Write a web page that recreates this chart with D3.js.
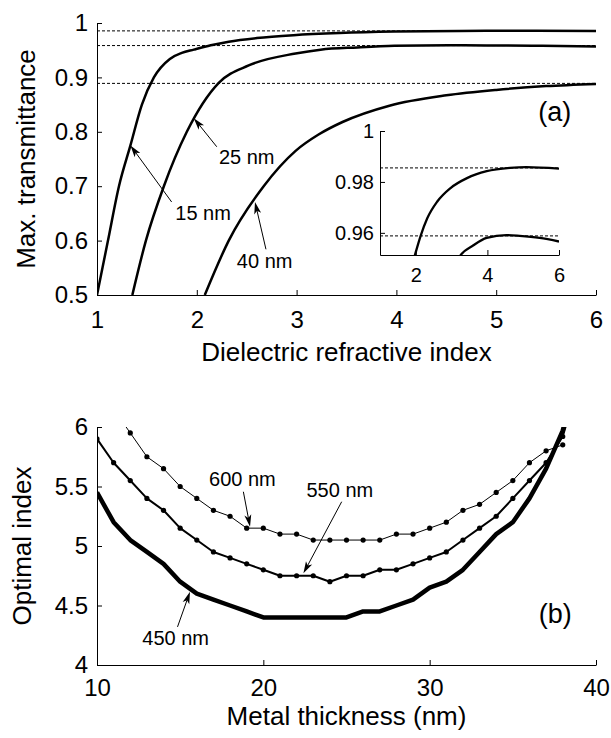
<!DOCTYPE html>
<html>
<head>
<meta charset="utf-8">
<script src="https://cdn.jsdelivr.net/npm/d3@7"></script>
<style>
  body { margin: 0; background: #fff; }
  svg { display: block; font-family: "Liberation Sans", Arial, sans-serif; }
</style>
</head>
<body>
<svg id="chart" width="611" height="738"></svg>
<script>
// panel (a): max transmittance vs dielectric index, [n, T]
const curve15 = [[1.0,0.5],[1.11,0.6],[1.22,0.7],[1.335,0.775],[1.45,0.85],[1.57,0.9],[1.73,0.934],[1.85,0.945],
  [1.97,0.951],[2.14,0.959],[2.32,0.9657],[2.6,0.9723],[2.97,0.9776],[3.43,0.9815],[3.98,0.9842],[4.63,0.9855],[5.09,0.9858],[6,0.9852]]
const curve25 = [[1.354,0.5],[1.49,0.6],[1.67,0.7],[1.9,0.8],[2.22,0.89],[2.52,0.922],[2.99,0.944],[3.24,0.951],
  [3.61,0.9551],[3.98,0.958],[4.53,0.9591],[4.9,0.9588],[5.46,0.958],[6,0.9566]]
const curve40 = [[2.08,0.5],[2.32,0.6],[2.67,0.7],[2.99,0.765],[3.22,0.795],[3.46,0.818],[3.93,0.848],[4.5,0.867],
  [5.0,0.877],[5.5,0.884],[6,0.888]]
const plateau = [0.9855, 0.9585, 0.889]
const insetPlateau = [0.9855, 0.9588]

const xTicksA = [1, 2, 3, 4, 5, 6]
const yTicksA = [0.5, 0.6, 0.7, 0.8, 0.9, 1]
const xTicksInset = [2, 4, 6]
const yTicksInset = [0.96, 0.98, 1]

const notesA = [
  { label: '25 nm', tip: [1.97, 0.825], tail: [2.2, 0.7725], text: [2.5, 0.753] },
  { label: '15 nm', tip: [1.335, 0.775], tail: [1.748, 0.671], text: [2.063, 0.65] },
  { label: '40 nm', tip: [2.583, 0.671], tail: [2.693, 0.584], text: [2.68, 0.563] }
]

// panel (b): optimal index vs metal thickness
const thick = [10,11,12,13,14,15,16,17,18,19,20,21,22,23,24,25,26,27,28,29,30,31,32,33,34,35,36,37,38,39]
const idx450 = [5.45,5.20,5.05,4.95,4.85,4.70,4.60,4.55,4.50,4.45,4.40,4.40,4.40,4.40,4.40,4.40,4.45,4.45,4.50,4.55,
  4.65,4.70,4.80,4.95,5.10,5.20,5.40,5.65,5.97,6.5]
const idx550 = [5.90,5.70,5.55,5.40,5.30,5.15,5.05,4.95,4.90,4.85,4.80,4.75,4.75,4.75,4.70,4.75,4.75,4.80,4.80,4.85,
  4.90,4.95,5.05,5.15,5.25,5.40,5.55,5.70,5.92,6.4]
const idx600 = [null,6.15,5.95,5.75,5.65,5.50,5.40,5.30,5.25,5.15,5.15,5.10,5.10,5.05,5.05,5.05,5.05,5.05,5.10,5.10,
  5.15,5.20,5.30,5.35,5.45,5.55,5.70,5.80,5.85,null]

const xTicksB = [10, 20, 30, 40]
const yTicksB = [4, 4.5, 5, 5.5, 6]

const notesB = [
  { label: '600 nm', tip: [19.2, 5.162], tail: [18.8, 5.456], text: [18.74, 5.563] },
  { label: '550 nm', tip: [22.41, 4.77], tail: [24.71, 5.372], text: [24.6, 5.47] },
  { label: '450 nm', tip: [15.59, 4.615], tail: [14.84, 4.32], text: [14.73, 4.224] }
]

const svg = d3.select('#chart')

const xA = d3.scaleLinear().domain([1, 6]).range([97, 596])
const yA = d3.scaleLinear().domain([0.5, 1]).range([295, 23])
const xI = d3.scaleLinear().domain([1, 6]).range([380, 559])
const yI = d3.scaleLinear().domain([0.9513, 1]).range([255, 131])
const xB = d3.scaleLinear().domain([10, 40]).range([97, 596])
const yB = d3.scaleLinear().domain([4, 6]).range([665, 427])

function axes(x, y, xt, yt, size, padX, padY) {
  const g = svg.append('g')
  g.append('g').attr('transform', `translate(0,${y.range()[0]})`)
    .call(d3.axisBottom(x).tickValues(xt).tickFormat(String).tickSizeInner(-5).tickSizeOuter(0).tickPadding(padX))
  g.append('g').attr('transform', `translate(${x.range()[0]},0)`)
    .call(d3.axisLeft(y).tickValues(yt).tickFormat(String).tickSizeInner(-5).tickSizeOuter(0).tickPadding(padY))
  g.selectAll('text').attr('font-size', size).attr('font-family', null).attr('fill', '#000')
  g.selectAll('path, line').attr('stroke', '#000')
  return g
}

function clip(id, x, y) {
  svg.append('clipPath').attr('id', id).append('rect')
    .attr('x', x.range()[0]).attr('y', y.range()[1])
    .attr('width', x.range()[1] - x.range()[0]).attr('height', y.range()[0] - y.range()[1])
}

function arrow(g, x, y, n, size) {
  const x1 = x(n.tail[0]), y1 = y(n.tail[1]), x2 = x(n.tip[0]), y2 = y(n.tip[1])
  const a = Math.atan2(y2 - y1, x2 - x1), L = 12, W = 3.5
  const c = Math.cos(a), s = Math.sin(a)
  const bx = x2 - L * c, by = y2 - L * s
  g.append('line').attr('x1', x1).attr('y1', y1).attr('x2', x2 - 8 * c).attr('y2', y2 - 8 * s)
    .attr('stroke', '#000').attr('stroke-width', 1)
  g.append('path')
    .attr('d', `M${x2},${y2}L${bx - s * W},${by + c * W}L${x2 - 0.75 * L * c},${y2 - 0.75 * L * s}L${bx + s * W},${by - c * W}Z`)
    .attr('fill', '#000')
  g.append('text').attr('x', x(n.text[0])).attr('y', y(n.text[1])).attr('dy', '0.35em')
    .attr('text-anchor', 'middle').attr('font-size', size).text(n.label)
}

// ---- panel (a)
clip('clipA', xA, yA)
clip('clipI', xI, yI)
clip('clipB', xB, yB)

svg.append('g').selectAll('line').data(plateau).enter().append('line')
  .attr('x1', xA(1)).attr('x2', xA(6)).attr('y1', d => yA(d)).attr('y2', d => yA(d))
  .attr('stroke', '#000').attr('stroke-width', 1).attr('stroke-dasharray', '3,2')

const lineA = d3.line().x(d => xA(d[0])).y(d => yA(d[1])).curve(d3.curveMonotoneX)
svg.append('g').attr('clip-path', 'url(#clipA)').selectAll('path')
  .data([curve15, curve25, curve40]).enter().append('path')
  .attr('d', lineA).attr('fill', 'none').attr('stroke', '#000').attr('stroke-width', 2.5)

axes(xA, yA, xTicksA, yTicksA, 24, 16, 9)

const notesGA = svg.append('g')
notesA.forEach(n => arrow(notesGA, xA, yA, n, 20))
svg.append('text').attr('x', xA(5.587)).attr('y', yA(0.838)).attr('dy', '0.35em')
  .attr('text-anchor', 'middle').attr('font-size', 27).text('(a)')

// inset
svg.append('g').selectAll('line').data(insetPlateau).enter().append('line')
  .attr('x1', xI(1)).attr('x2', xI(6)).attr('y1', d => yI(d)).attr('y2', d => yI(d))
  .attr('stroke', '#000').attr('stroke-width', 1).attr('stroke-dasharray', '3,2')
const lineI = d3.line().x(d => xI(d[0])).y(d => yI(d[1])).curve(d3.curveMonotoneX)
svg.append('g').attr('clip-path', 'url(#clipI)').selectAll('path')
  .data([curve15, curve25]).enter().append('path')
  .attr('d', lineI).attr('fill', 'none').attr('stroke', '#000').attr('stroke-width', 2.3)
axes(xI, yI, xTicksInset, yTicksInset, 20, 13, 6)

svg.append('text').attr('x', xA(3.5)).attr('y', 361).attr('text-anchor', 'middle')
  .attr('font-size', 26).text('Dielectric refractive index')
svg.append('text').attr('transform', `translate(35,${(yA(0.5) + yA(1)) / 2}) rotate(-90)`)
  .attr('text-anchor', 'middle').attr('font-size', 26).text('Max. transmittance')

// ---- panel (b)
const series = [
  { vals: idx600, width: 1, dots: true },
  { vals: idx550, width: 2, dots: true },
  { vals: idx450, width: 4.5, dots: false }
]
const lineB = d3.line().defined(d => d[1] != null).x(d => xB(d[0])).y(d => yB(d[1]))
const gB = svg.append('g').attr('clip-path', 'url(#clipB)')
series.forEach(s => {
  const pts = thick.map((t, i) => [t, s.vals[i]])
  gB.append('path').datum(pts).attr('d', lineB).attr('fill', 'none')
    .attr('stroke', '#000').attr('stroke-width', s.width).attr('stroke-linejoin', 'round')
  if (s.dots) {
    gB.append('g').selectAll('circle').data(pts.filter(d => d[1] != null)).enter().append('circle')
      .attr('cx', d => xB(d[0])).attr('cy', d => yB(d[1])).attr('r', 2.6).attr('fill', '#000')
  }
})

axes(xB, yB, xTicksB, yTicksB, 24, 14, 9)

const notesGB = svg.append('g')
notesB.forEach(n => arrow(notesGB, xB, yB, n, 20))
svg.append('text').attr('x', xB(37.55)).attr('y', yB(4.43)).attr('dy', '0.35em')
  .attr('text-anchor', 'middle').attr('font-size', 27).text('(b)')

svg.append('text').attr('x', xB(25)).attr('y', 725).attr('text-anchor', 'middle')
  .attr('font-size', 26).text('Metal thickness (nm)')
svg.append('text').attr('transform', `translate(31,${(yB(4) + yB(6)) / 2}) rotate(-90)`)
  .attr('text-anchor', 'middle').attr('font-size', 26).text('Optimal index')
</script>
</body>
</html>
